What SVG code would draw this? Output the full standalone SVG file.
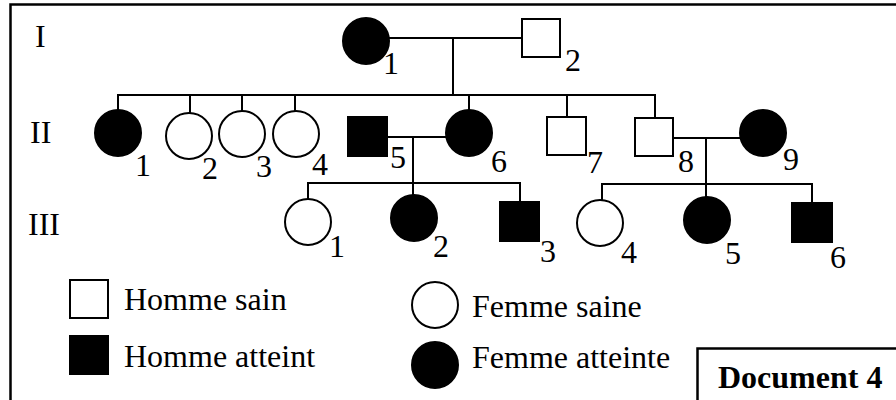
<svg xmlns="http://www.w3.org/2000/svg" width="896" height="400" viewBox="0 0 896 400">
<style>
  .frame { fill: none; stroke: #000; stroke-width: 2.5; }
  .ln { stroke: #000; stroke-width: 2; fill: none; }
  .open { fill: #fff; stroke: #000; stroke-width: 2; }
  .aff { fill: #000; stroke: #000; stroke-width: 2; }
  text { font-family: "Liberation Serif", "Times New Roman", serif; font-size: 32px; fill: #000; }
  .doc { font-weight: bold; }
</style>
<rect width="896" height="400" fill="#fff"/>
<rect class="frame" x="10.5" y="4.5" width="900" height="410"/>

<g id="generations">
  <text x="35" y="47">I</text>
  <text x="30" y="143">II</text>
  <text x="28" y="235">III</text>
</g>

<g id="connectors">
  <line class="ln" x1="389" y1="38" x2="522" y2="38"/>
  <line class="ln" x1="453" y1="38" x2="453" y2="95"/>
  <line class="ln" x1="117" y1="95" x2="656" y2="95"/>
  <line class="ln" x1="118" y1="95" x2="118" y2="111"/>
  <line class="ln" x1="190" y1="95" x2="190" y2="113"/>
  <line class="ln" x1="242" y1="95" x2="242" y2="111"/>
  <line class="ln" x1="295" y1="95" x2="295" y2="111"/>
  <line class="ln" x1="469" y1="95" x2="469" y2="110"/>
  <line class="ln" x1="567" y1="95" x2="567" y2="117"/>
  <line class="ln" x1="655" y1="95" x2="655" y2="118"/>
  <line class="ln" x1="387" y1="137" x2="446" y2="137"/>
  <line class="ln" x1="413" y1="137" x2="413" y2="196"/>
  <line class="ln" x1="307" y1="183" x2="521" y2="183"/>
  <line class="ln" x1="308" y1="183" x2="308" y2="199"/>
  <line class="ln" x1="520" y1="183" x2="520" y2="202"/>
  <line class="ln" x1="673" y1="138" x2="740" y2="138"/>
  <line class="ln" x1="706" y1="138" x2="706" y2="198"/>
  <line class="ln" x1="601" y1="184" x2="813" y2="184"/>
  <line class="ln" x1="602" y1="184" x2="602" y2="200"/>
  <line class="ln" x1="812" y1="184" x2="812" y2="203"/>
</g>

<g id="I-1"><circle class="aff" cx="366" cy="41" r="23"/><text x="383" y="74">1</text></g>
<g id="I-2"><rect class="open" x="522" y="19" width="38" height="38"/><text x="565" y="71">2</text></g>

<g id="II-1"><circle class="aff" cx="118" cy="133" r="23"/><text x="135" y="176">1</text></g>
<g id="II-2"><circle class="open" cx="189" cy="136" r="23"/><text x="202" y="179">2</text></g>
<g id="II-3"><circle class="open" cx="242" cy="134" r="23"/><text x="256" y="177">3</text></g>
<g id="II-4"><circle class="open" cx="296" cy="134" r="23"/><text x="312" y="175">4</text></g>
<g id="II-5"><rect class="aff" x="348" y="117" width="39" height="39"/><text x="390" y="168">5</text></g>
<g id="II-6"><circle class="aff" cx="469" cy="133" r="23"/><text x="491" y="172">6</text></g>
<g id="II-7"><rect class="open" x="547" y="117" width="39" height="38"/><text x="587" y="173">7</text></g>
<g id="II-8"><rect class="open" x="635" y="118" width="38" height="38"/><text x="678" y="172">8</text></g>
<g id="II-9"><circle class="aff" cx="763" cy="133" r="23"/><text x="783" y="170">9</text></g>

<g id="III-1"><circle class="open" cx="308" cy="222" r="23"/><text x="329" y="257">1</text></g>
<g id="III-2"><circle class="aff" cx="414" cy="218" r="23"/><text x="433" y="257">2</text></g>
<g id="III-3"><rect class="aff" x="500" y="202" width="39" height="39"/><text x="540" y="262">3</text></g>
<g id="III-4"><circle class="open" cx="600" cy="223" r="23"/><text x="621" y="263">4</text></g>
<g id="III-5"><circle class="aff" cx="707" cy="220" r="23"/><text x="725" y="264">5</text></g>
<g id="III-6"><rect class="aff" x="792" y="203" width="40" height="39"/><text x="830" y="268">6</text></g>

<g id="legend">
  <rect class="open" x="70" y="280" width="38" height="38"/>
  <text x="124" y="310">Homme sain</text>
  <rect class="aff" x="70" y="336" width="38" height="38"/>
  <text x="124" y="367">Homme atteint</text>
  <circle class="open" cx="435" cy="305" r="23"/>
  <text x="472" y="317">Femme saine</text>
  <circle class="aff" cx="435" cy="365" r="23"/>
  <text x="472" y="368">Femme atteinte</text>
</g>

<g id="document-label">
  <rect class="frame" x="697.5" y="348.5" width="210" height="70"/>
  <text class="doc" x="718" y="388">Document 4</text>
</g>
</svg>
